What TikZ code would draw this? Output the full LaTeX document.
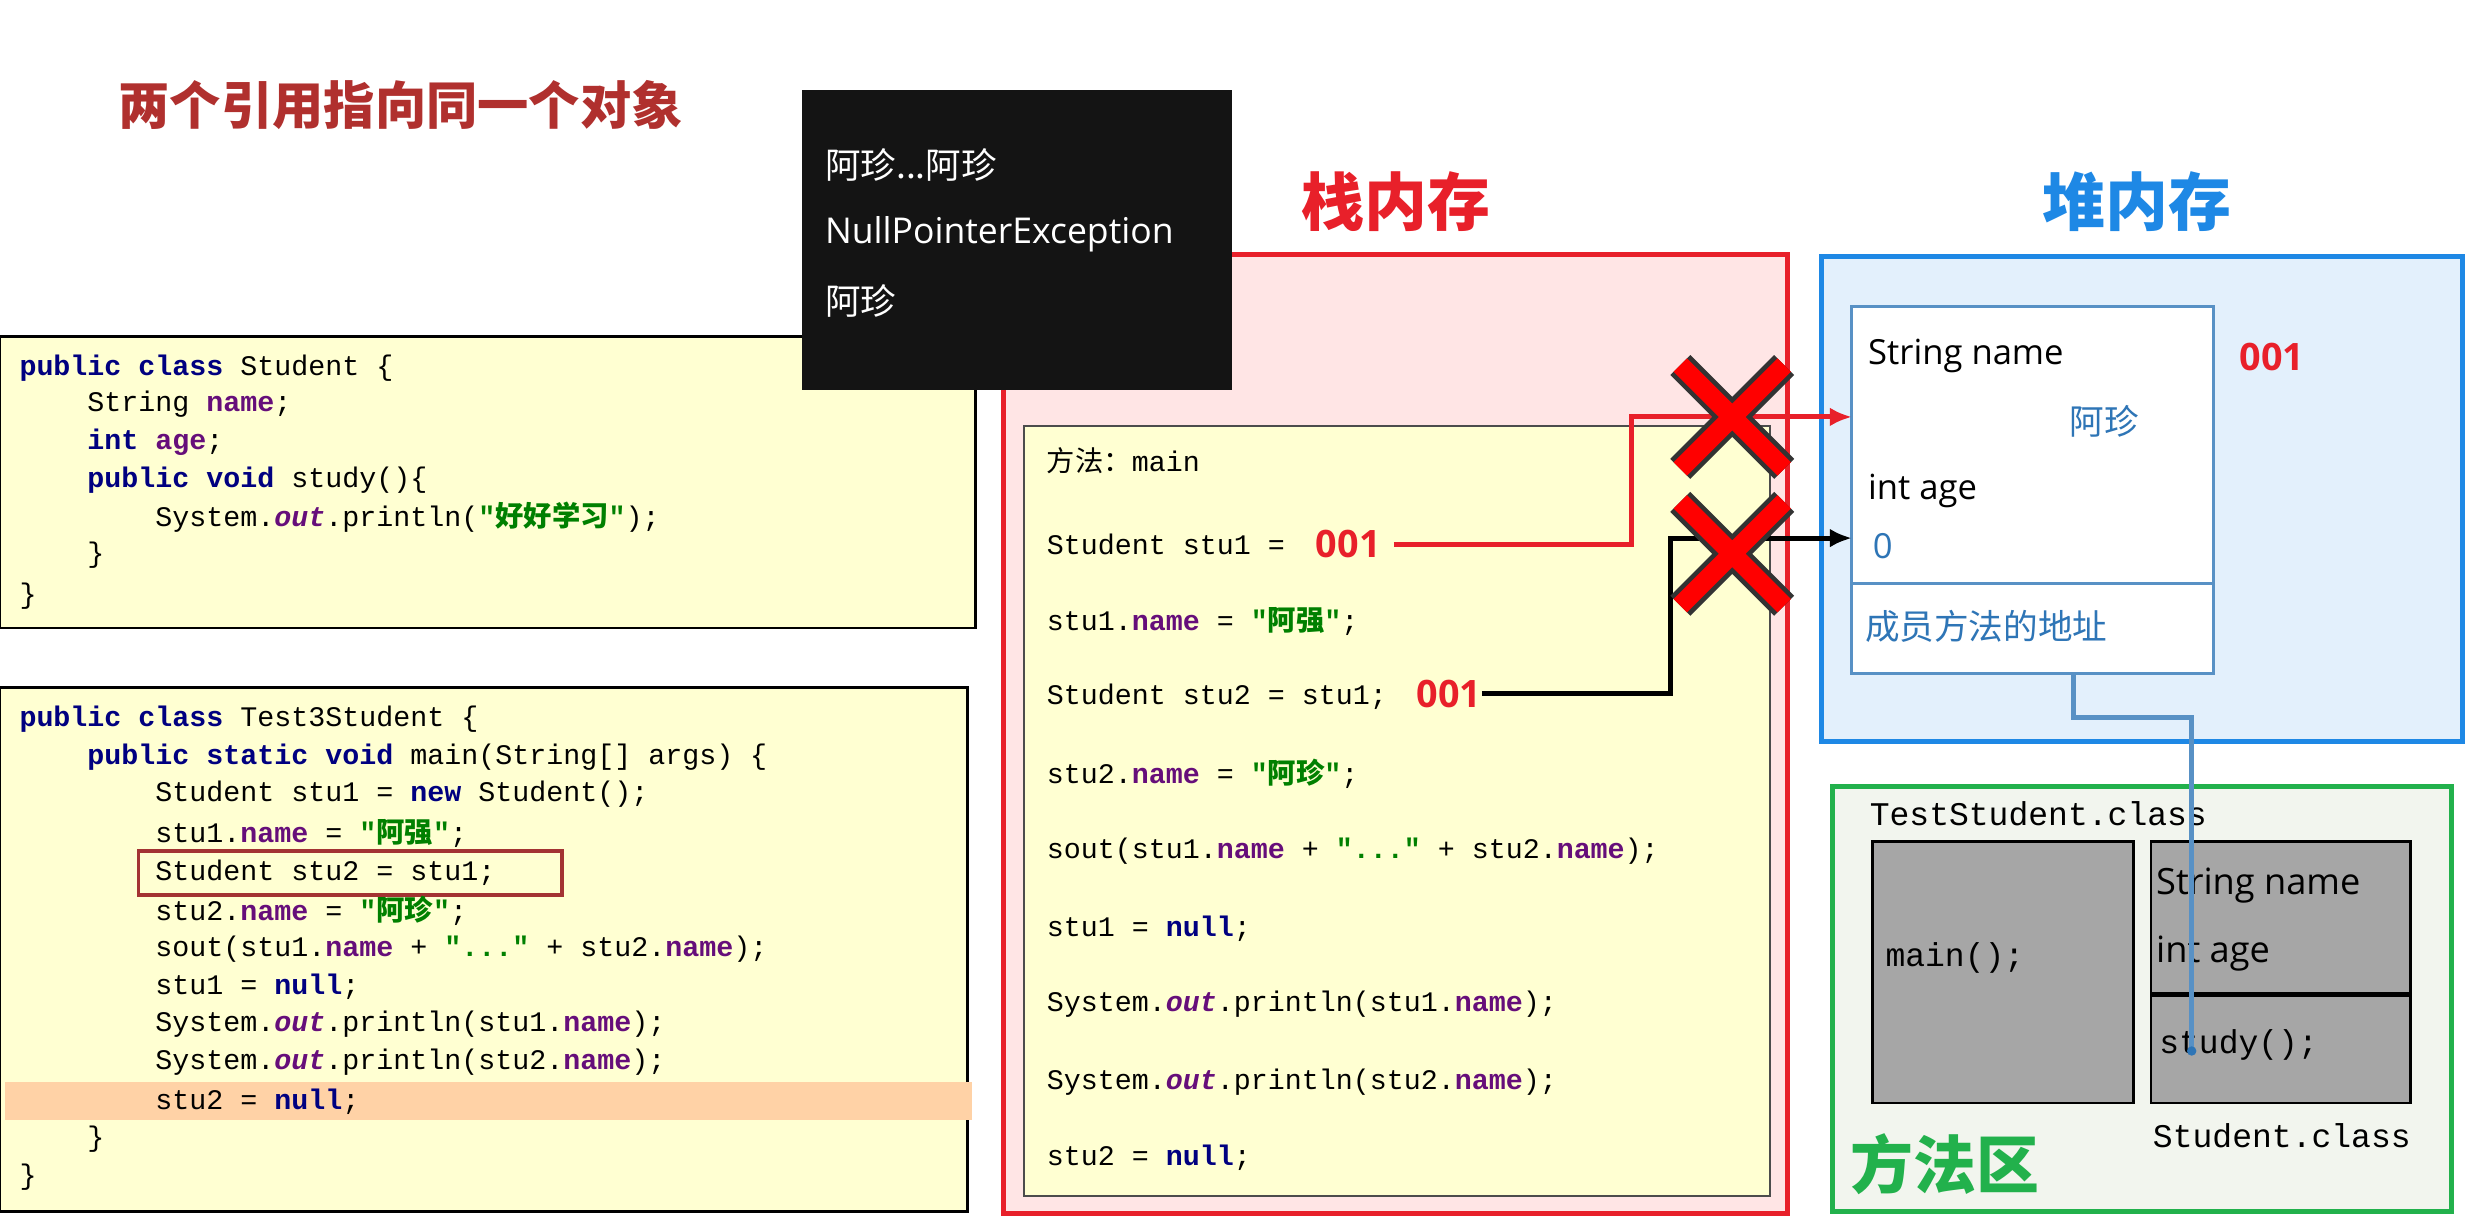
\documentclass[tikz,border=0pt]{standalone}
\usepackage{fontspec}
\usetikzlibrary{arrows.meta}
\setmainfont{Open Sans}
\setmonofont{Liberation Mono}
\newfontfamily\cjk{Noto Sans CJK SC}
\definecolor{kwc}{HTML}{000080}
\definecolor{fdc}{HTML}{660E7A}
\definecolor{stc}{HTML}{008000}
\definecolor{codebg}{HTML}{FFFFD2}
\definecolor{titlered}{HTML}{B0302E}
\definecolor{stackred}{HTML}{E8202A}
\definecolor{heapblue}{HTML}{1E88E5}
\definecolor{heapbg}{HTML}{E3F0FC}
\definecolor{objblue}{HTML}{2E75B6}
\definecolor{mgreen}{HTML}{22B14C}
\definecolor{mbg}{HTML}{F2F5EE}
\newcommand{\jkw}[1]{\textcolor{kwc}{\textbf{#1}}}
\newcommand{\jfd}[1]{\textcolor{fdc}{\textbf{#1}}}
\newcommand{\jst}[1]{\textcolor{stc}{\textbf{#1}}}
\newcommand{\jout}[1]{\textcolor{fdc}{\textbf{\textit{#1}}}}
\begin{document}
\begin{tikzpicture}[x=0.5pt,y=-0.5pt,
  code/.style={anchor=west,inner sep=0pt,font=\ttfamily\fontsize{9}{10}\selectfont},
  mcode/.style={anchor=west,inner sep=0pt,font=\ttfamily\fontsize{10.5}{11}\selectfont},
  sans/.style={anchor=west,inner sep=0pt,font=\fontsize{11}{12}\selectfont},
  xmark/.style={line width=9pt,draw=black!80},
  xmarkin/.style={line width=6pt,draw=red},
]
\useasboundingbox (0,0) rectangle (1568,775);
\fill[white] (0,0) rectangle (1568,775);
% title
\node[anchor=west,inner sep=0pt,text=titlered,font=\cjk\bfseries\fontsize{16.3}{18}\selectfont] (title) at (75,67) {两个引用指向同一个对象};
% left code boxes
\draw[fill=codebg,line width=0.8pt] (0,214) rectangle (620,399);
\node[code] (s1) at (12,234) {\jkw{public} \jkw{class} Student \{};
\node[code] (s2) at (12,257) {\ \ \ \ String \jfd{name};};
\node[code] (s3) at (12,281) {\ \ \ \ \jkw{int} \jfd{age};};
\node[code] (s4) at (12,305) {\ \ \ \ \jkw{public} \jkw{void} study()\{};
\node[code] (s5) at (12,329) {\ \ \ \ \ \ \ \ System.\jout{out}.println(\jst{"{\cjk 好好学习}"});};
\node[code] (s6) at (12,353) {\ \ \ \ \}};
\node[code] (s7) at (12,379) {\}};
\draw[fill=codebg,line width=0.8pt] (0,437) rectangle (615,770);
\fill[orange!35] (3,688) rectangle (618,712);
\draw[draw=red!55!black!80,line width=1.2pt] (88,541) rectangle (357,569);
\node[code] (t1) at (12,457) {\jkw{public} \jkw{class} Test3Student \{};
\node[code] (t2) at (12,481) {\ \ \ \ \jkw{public} \jkw{static} \jkw{void} main(String[] args) \{};
\node[code] (t3) at (12,505) {\ \ \ \ \ \ \ \ Student stu1 = \jkw{new} Student();};
\node[code] (t4) at (12,530) {\ \ \ \ \ \ \ \ stu1.\jfd{name} = \jst{"{\cjk 阿强}"};};
\node[code] (t5) at (12,555) {\ \ \ \ \ \ \ \ Student stu2 = stu1;};
\node[code] (t6) at (12,579) {\ \ \ \ \ \ \ \ stu2.\jfd{name} = \jst{"{\cjk 阿珍}"};};
\node[code] (t7) at (12,603) {\ \ \ \ \ \ \ \ sout(stu1.\jfd{name} + \jst{"..."} + stu2.\jfd{name});};
\node[code] (t8) at (12,627) {\ \ \ \ \ \ \ \ stu1 = \jkw{null};};
\node[code] (t9) at (12,651) {\ \ \ \ \ \ \ \ System.\jout{out}.println(stu1.\jfd{name});};
\node[code] (t10) at (12,675) {\ \ \ \ \ \ \ \ System.\jout{out}.println(stu2.\jfd{name});};
\node[code] (t11) at (12,700) {\ \ \ \ \ \ \ \ stu2 = \jkw{null};};
\node[code] (t12) at (12,724) {\ \ \ \ \}};
\node[code] (t13) at (12,748) {\}};
% stack
\node[text=stackred,font=\cjk\bfseries\fontsize{20}{22}\selectfont] (stackt) at (887,128) {栈内存};
\draw[draw=stackred,fill=red!10,line width=1.6pt] (638,162) rectangle (1136,771);
\draw[fill=codebg,draw=black!70,line width=0.6pt] (651,271) rectangle (1125,760);
\node[code] (m0) at (665,293) {{\cjk 方法：}main};
\node[code] (m1) at (665,346) {Student stu1 =};
\node[anchor=west,inner sep=0pt,text=stackred,font=\bfseries\fontsize{12}{14}\selectfont] (a1) at (836,346) {001};
\node[code] (m2) at (665,395) {stu1.\jfd{name} = \jst{"{\cjk 阿强}"};};
\node[code] (m3) at (665,443) {Student stu2 = stu1;};
\node[anchor=west,inner sep=0pt,text=stackred,font=\bfseries\fontsize{12}{14}\selectfont] (a2) at (900,441) {001};
\node[code] (m4) at (665,492) {stu2.\jfd{name} = \jst{"{\cjk 阿珍}"};};
\node[code] (m5) at (665,541) {sout(stu1.\jfd{name} + \jst{"..."} + stu2.\jfd{name});};
\node[code] (m6) at (665,590) {stu1 = \jkw{null};};
\node[code] (m7) at (665,638) {System.\jout{out}.println(stu1.\jfd{name});};
\node[code] (m8) at (665,688) {System.\jout{out}.println(stu2.\jfd{name});};
\node[code] (m9) at (665,736) {stu2 = \jkw{null};};
% console box (on top)
\fill[black!92] (510,57) rectangle (783,248);
\node[sans,text=white,font=\cjk\fontsize{11.3}{12}\selectfont] (o1) at (524,105) {阿珍...阿珍};
\node[sans,text=white,font=\fontsize{11.3}{12}\selectfont] (o2) at (524,149) {NullPointerException};
\node[sans,text=white,font=\cjk\fontsize{11.3}{12}\selectfont] (o3) at (524,191) {阿珍};
% heap
\node[text=heapblue,font=\cjk\bfseries\fontsize{20}{22}\selectfont] (heapt) at (1358,128) {堆内存};
\draw[draw=heapblue,fill=heapbg,line width=1.6pt] (1158,163) rectangle (1565,471);
\draw[fill=white,draw=objblue!80,line width=1pt] (1177,195) rectangle (1407,428);
\draw[draw=objblue!80,line width=1pt] (1177,371) -- (1407,371);
\coordinate (objtop) at (1177,265);
\coordinate (objage) at (1177,342);
\node[sans] (h1) at (1187,226) {String name};
\node[sans,text=objblue,font=\cjk\fontsize{11}{12}\selectfont] (h2) at (1315,268) {阿珍};
\node[sans] (h3) at (1187,312) {int age};
\node[sans,text=objblue] (h4) at (1190,347) {0};
\node[sans,text=objblue,font=\cjk\fontsize{11}{12}\selectfont] (h5) at (1185,398) {成员方法的地址};
\node[anchor=west,inner sep=0pt,text=stackred,font=\bfseries\fontsize{12}{14}\selectfont] (h6) at (1423,227) {001};
% method area
\draw[draw=mgreen,fill=mbg,line width=1.6pt] (1165,500) rectangle (1558,770);
\node[mcode] (c1) at (1188,517) {TestStudent.class};
\draw[fill=black!35,line width=0.8pt] (1190,535) rectangle (1356,701);
\draw[fill=black!35,line width=0.8pt] (1367,535) rectangle (1532,701);
\draw[line width=1.5pt] (1367,632) -- (1532,632);
\node[mcode] (c2) at (1198,609) {main();};
\node[sans,font=\fontsize{11.5}{12}\selectfont] (c3) at (1370,563) {String name};
\node[sans,font=\fontsize{11.5}{12}\selectfont] (c4) at (1370,606) {int age};
\node[mcode] (c5) at (1372,664) {study();};
\node[mcode] (c6) at (1368,722) {Student.class};
\node[anchor=west,inner sep=0pt,text=mgreen,font=\cjk\bfseries\fontsize{20}{22}\selectfont] (c7) at (1176,740) {方法区};
% connectors
\draw[draw=objblue!80,line width=1.5pt] (1318,428) |- (1393,456) -- (1393,668);
\fill[objblue] (1393,668) circle (3);
\draw[stackred,line width=1.6pt,-{Latex[length=7pt,width=6pt]}] (a1.east) ++(8,0) -| (1037,265) -- (objtop);
\draw[black,line width=1.6pt,-{Latex[length=7pt,width=6pt]}] (a2.east) -| (1062,342) -- (objage);
% X marks
\foreach \cy in {265,352}{
  \draw[xmark] (1068,\cy-33) -- (1134,\cy+33) (1068,\cy+33) -- (1134,\cy-33);
  \draw[xmarkin] (1068,\cy-33) -- (1134,\cy+33) (1068,\cy+33) -- (1134,\cy-33);
}
\end{tikzpicture}
\end{document}
